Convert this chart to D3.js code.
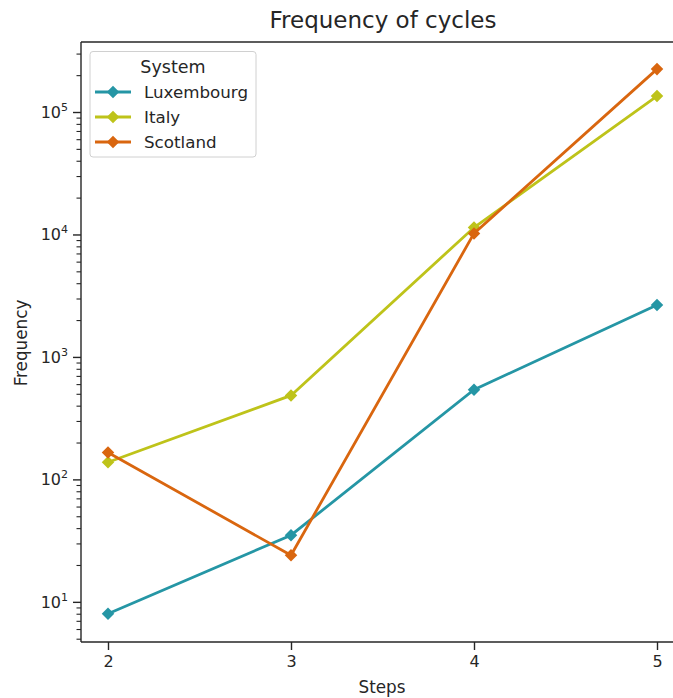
<!DOCTYPE html>
<html><head><meta charset="utf-8">
<script src="https://cdn.jsdelivr.net/npm/d3@7"></script>
<style>body{margin:0;background:#fff;overflow:hidden}text{font-family:"DejaVu Sans",sans-serif;fill:#262626}</style>
</head><body><svg id="c" width="673" height="698"></svg>
<script>
const steps = [2, 3, 4, 5];
const seriesNames = ["Luxembourg", "Italy", "Scotland"];
const luxembourg = [8, 35, 540, 2650];
const italy = [138, 485, 11400, 135000];
const scotland = [166, 24, 10200, 224000];
const colors = ["#2596a5", "#bec31a", "#d9660f"];
const xTicks = [2, 3, 4, 5];
const yTicks = [10, 100, 1000, 10000, 100000];

const svg = d3.select("#c");
const L = 81, R = 683, T = 42, B = 642;
const x = d3.scaleLinear().domain([2, 5]).range([108, 657]);
const y = d3.scaleLog().domain([4.7, 373000]).range([B, T]);
const ink = "#262626";

// spines
svg.append("line").attr("x1", L).attr("x2", L).attr("y1", T).attr("y2", B).attr("stroke", ink).attr("stroke-width", 1.4);
svg.append("line").attr("x1", L).attr("x2", R).attr("y1", B).attr("y2", B).attr("stroke", ink).attr("stroke-width", 1.4);
svg.append("line").attr("x1", L).attr("x2", R).attr("y1", T).attr("y2", T).attr("stroke", ink).attr("stroke-width", 1.4);

// x axis
const xa = svg.append("g").attr("transform", `translate(0,${B})`)
  .call(d3.axisBottom(x).tickValues(xTicks).tickFormat(d3.format("d")).tickSize(8).tickPadding(6));
xa.select(".domain").remove();
xa.selectAll("line").attr("stroke", ink).attr("stroke-width", 1.4);
xa.selectAll("text").attr("font-size", 16).attr("fill", ink).style("font-family", "DejaVu Sans");

// y axis major
const ya = svg.append("g").attr("transform", `translate(${L},0)`)
  .call(d3.axisLeft(y).tickValues(yTicks).tickFormat(() => "").tickSize(8));
ya.select(".domain").remove();
ya.selectAll("line").attr("stroke", ink).attr("stroke-width", 1.4);
yTicks.forEach(v => {
  const t = svg.append("text").attr("x", L - 13).attr("y", y(v) + 6).attr("text-anchor", "end").attr("font-size", 16);
  t.append("tspan").text("10");
  t.append("tspan").attr("font-size", 11).attr("dy", -7).text(String(Math.round(Math.log10(v))));
});
// minor ticks
const minors = [];
for (let e = 0; e <= 5; e++) for (let m = 2; m <= 9; m++) { const v = m * Math.pow(10, e); if (v >= 4.7 && v <= 373000) minors.push(v); }
const ym = svg.append("g").attr("transform", `translate(${L},0)`)
  .call(d3.axisLeft(y).tickValues(minors).tickFormat(() => "").tickSize(4.5));
ym.select(".domain").remove();
ym.selectAll("line").attr("stroke", ink).attr("stroke-width", 1.1);

// title & labels
svg.append("text").attr("x", 383).attr("y", 28).attr("text-anchor", "middle").attr("font-size", 23).text("Frequency of cycles");
svg.append("text").attr("x", 382).attr("y", 693).attr("text-anchor", "middle").attr("font-size", 16.8).text("Steps");
svg.append("text").attr("transform", `translate(27,343) rotate(-90)`).attr("text-anchor", "middle").attr("font-size", 16.8).text("Frequency");

// series
const data = [luxembourg, italy, scotland];
const diamond = d3.symbol().type(d3.symbolDiamond2).size(100);
const line = d3.line().x((d, i) => x(steps[i])).y(d => y(d));
data.forEach((vals, k) => {
  svg.append("path").attr("d", line(vals)).attr("fill", "none").attr("stroke", colors[k]).attr("stroke-width", 2.8);
  svg.append("g").selectAll("path").data(vals).join("path")
    .attr("transform", (d, i) => `translate(${x(steps[i])},${y(d)})`)
    .attr("d", diamond).attr("fill", colors[k]);
});

// legend
const lg = svg.append("g");
lg.append("rect").attr("x", 90).attr("y", 51.5).attr("width", 166).attr("height", 105.5).attr("rx", 3)
  .attr("fill", "#fff").attr("fill-opacity", 0.8).attr("stroke", "#d0d0d0").attr("stroke-width", 1);
lg.append("text").attr("x", 173).attr("y", 73).attr("text-anchor", "middle").attr("font-size", 17.5).text("System");
seriesNames.forEach((n, k) => {
  const yy = 92 + k * 25;
  lg.append("line").attr("x1", 95).attr("x2", 131).attr("y1", yy).attr("y2", yy).attr("stroke", colors[k]).attr("stroke-width", 2.8);
  lg.append("path").attr("transform", `translate(113,${yy})`).attr("d", diamond).attr("fill", colors[k]);
  lg.append("text").attr("x", 144).attr("y", yy + 6).attr("font-size", 16.7).text(n);
});
</script></body></html>
